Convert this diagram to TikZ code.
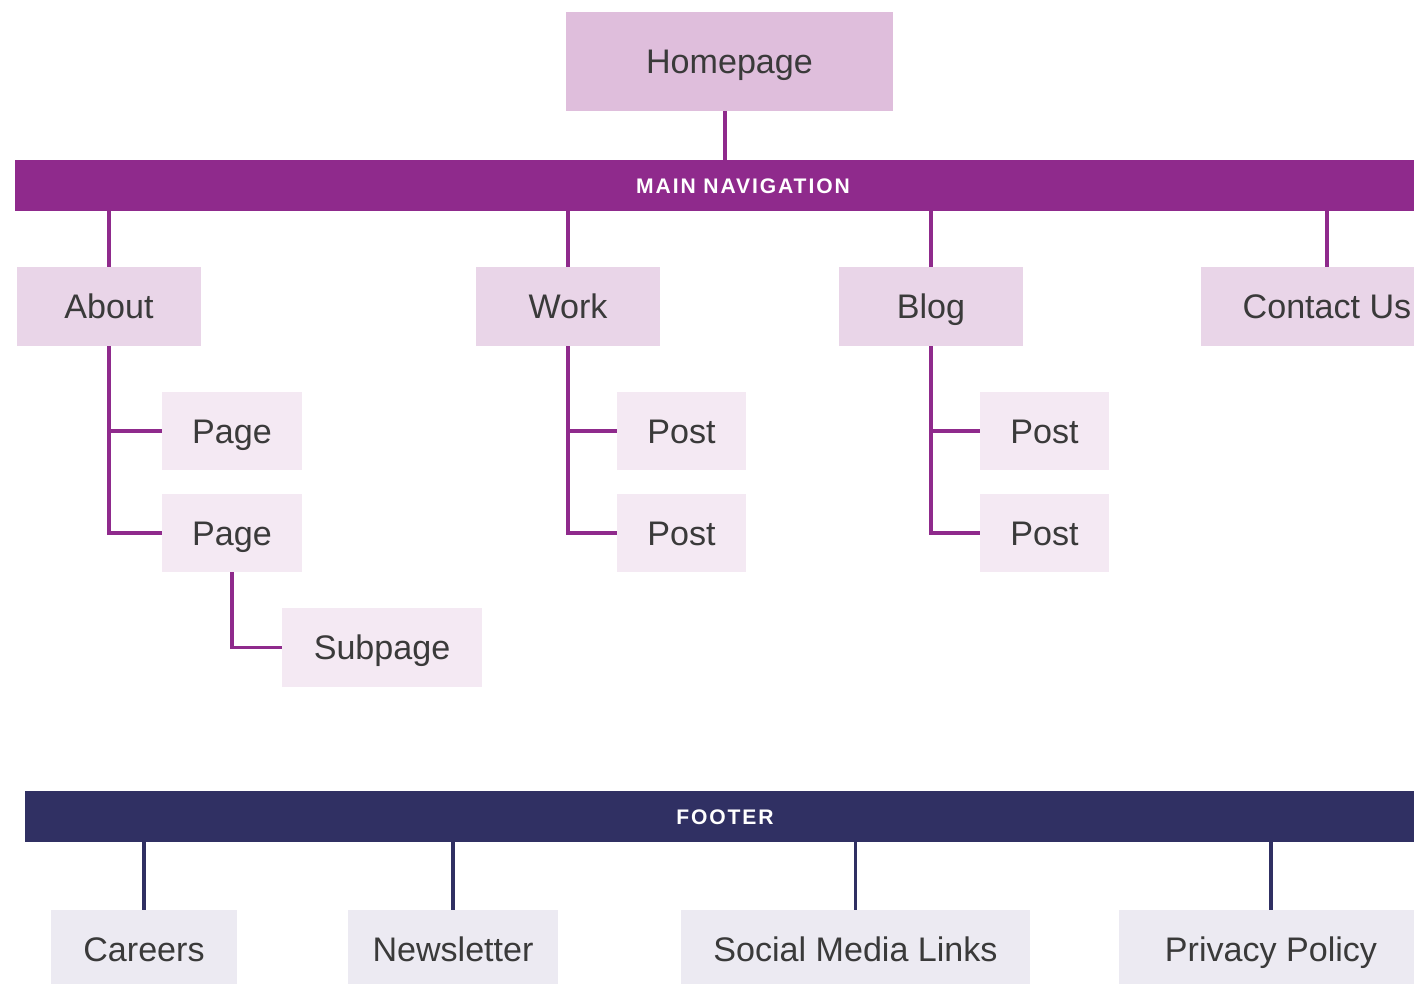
\documentclass[tikz,border=0pt]{standalone}
\usepackage{fontspec}
\setmainfont{Liberation Sans}
\newfontfamily\barfont[LetterSpace=9]{Liberation Sans}
\definecolor{homefill}{HTML}{DFBEDC}
\definecolor{lonefill}{HTML}{E9D5E8}
\definecolor{ltwofill}{HTML}{F4E9F3}
\definecolor{footfill}{HTML}{ECEAF2}
\definecolor{navcol}{HTML}{8F2A8C}
\definecolor{footcol}{HTML}{303063}
\definecolor{txtcol}{HTML}{3A3A3A}
\begin{document}
\begin{tikzpicture}[x=0.02cm,y=-0.02cm,
  box/.style={rectangle, inner sep=0pt, text=txtcol, text height=13.9pt, text depth=0pt,
    font=\fontsize{19.4}{22}\selectfont},
  homebox/.style={box, fill=homefill},
  lonebox/.style={box, fill=lonefill, minimum height=1.58cm},
  ltwobox/.style={box, fill=ltwofill},
  footbox/.style={box, fill=footfill, minimum height=1.58cm},
  bar/.style={rectangle, inner sep=0pt, minimum height=1.02cm},
  bartext/.style={text=white, font=\barfont\bfseries\fontsize{12}{14}\selectfont, inner sep=0pt,
    text height=8.6pt, text depth=0pt},
  navline/.style={draw=navcol, line width=2pt},
  footline/.style={draw=footcol, line width=2pt}]
\useasboundingbox (0,0) rectangle (1414,984);
\clip (0,0) rectangle (1414,984);

% Homepage and main navigation
\node[homebox, minimum width=6.54cm, minimum height=1.98cm] (home) at (729.5,61.5) {Homepage};
\node[bar, fill=navcol, minimum width=27.98cm] (nav) at (714.5,185.5) {};
\node[bartext] (navt) at (743,185.5) {MAIN NAVIGATION};

% Level 1
\node[lonebox, minimum width=3.7cm] (about) at (109,306.5) {About};
\node[lonebox, minimum width=3.7cm] (work) at (568,306.5) {Work};
\node[lonebox, minimum width=3.7cm] (blog) at (931,306.5) {Blog};
\node[lonebox, minimum width=5.04cm] (contact) at (1327,306.5) {Contact Us};

% Level 2
\node[ltwobox, minimum width=2.8cm, minimum height=1.56cm] (page1) at (232,431) {Page};
\node[ltwobox, minimum width=2.8cm, minimum height=1.56cm] (page2) at (232,533) {Page};
\node[ltwobox, minimum width=4cm, minimum height=1.58cm] (sub) at (382,647.5) {Subpage};
\node[ltwobox, minimum width=2.58cm, minimum height=1.56cm] (wpost1) at (681.5,431) {Post};
\node[ltwobox, minimum width=2.58cm, minimum height=1.56cm] (wpost2) at (681.5,533) {Post};
\node[ltwobox, minimum width=2.58cm, minimum height=1.56cm] (bpost1) at (1044.5,431) {Post};
\node[ltwobox, minimum width=2.58cm, minimum height=1.56cm] (bpost2) at (1044.5,533) {Post};

% Footer
\node[bar, fill=footcol, minimum width=27.78cm] (foot) at (719.5,816.5) {};
\node[bartext] (foott) at (725,816.5) {FOOTER};
\node[footbox, minimum width=3.72cm] (careers) at (144,949.5) {Careers};
\node[footbox, minimum width=4.2cm] (news) at (453,949.5) {Newsletter};
\node[footbox, minimum width=6.98cm] (social) at (855.5,949.5) {Social Media Links};
\node[footbox, minimum width=6.08cm] (privacy) at (1271,949.5) {Privacy Policy};

% Connectors
\draw[navline] ([xshift=-0.09cm]home.south) -- ([xshift=-0.09cm]home.south |- nav.north);
\foreach \n in {about,work,blog,contact}
  \draw[navline] (\n.north |- nav.south) -- (\n.north);
\draw[navline] (about.south) |- (page2.west);
\draw[navline] (about.south |- page1.west) -- (page1.west);
\draw[navline] (page2.south) |- (sub.west);
\draw[navline] (work.south) |- (wpost2.west);
\draw[navline] (work.south |- wpost1.west) -- (wpost1.west);
\draw[navline] (blog.south) |- (bpost2.west);
\draw[navline] (blog.south |- bpost1.west) -- (bpost1.west);
\foreach \n in {careers,news,social,privacy}
  \draw[footline] (\n.north |- foot.south) -- (\n.north);
\end{tikzpicture}
\end{document}
